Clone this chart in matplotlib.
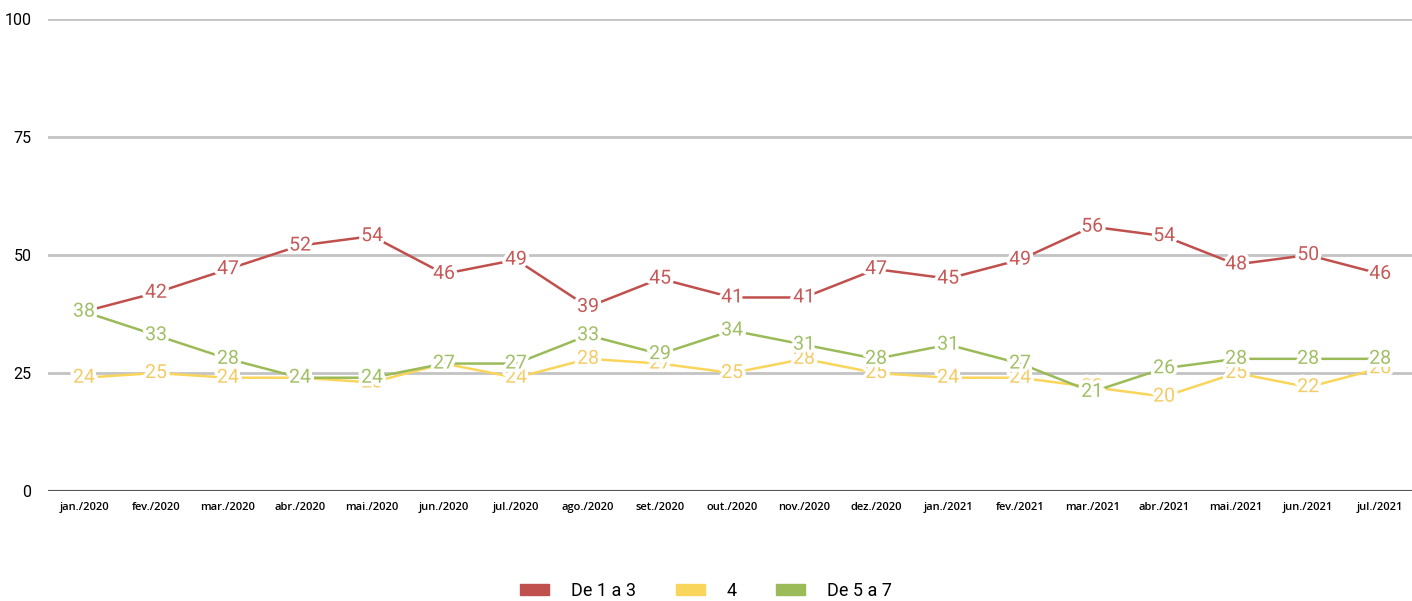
import matplotlib
matplotlib.use("Agg")
import matplotlib.pyplot as plt
import matplotlib.patheffects as pe
from matplotlib.patches import Patch

months = ["jan./2020", "fev./2020", "mar./2020", "abr./2020", "mai./2020", "jun./2020",
          "jul./2020", "ago./2020", "set./2020", "out./2020", "nov./2020", "dez./2020",
          "jan./2021", "fev./2021", "mar./2021", "abr./2021", "mai./2021", "jun./2021",
          "jul./2021"]
de_1_a_3 = [38, 42, 47, 52, 54, 46, 49, 39, 45, 41, 41, 47, 45, 49, 56, 54, 48, 50, 46]
quatro = [24, 25, 24, 24, 23, 27, 24, 28, 27, 25, 28, 25, 24, 24, 22, 20, 25, 22, 26]
de_5_a_7 = [38, 33, 28, 24, 24, 27, 27, 33, 29, 34, 31, 28, 31, 27, 21, 26, 28, 28, 28]
y_ticks = [0, 25, 50, 75, 100]

series = [("De 1 a 3", de_1_a_3, "#c0504d", "#c55a58"),
          ("4", quatro, "#fad55c", "#f3cc66"),
          ("De 5 a 7", de_5_a_7, "#9bbb59", "#a1bf66")]

fig = plt.figure(figsize=(14.12, 6.01), dpi=100)
ax = fig.add_axes([48 / 1412, 110 / 601, 1 - 48 / 1412 + 0.003, 472 / 601])

x = list(range(len(months)))
for name, vals, col, lblcol in series:
    ax.plot(x, vals, color=col, lw=1.8, zorder=3)

for name, vals, col, lblcol in series:
    for i, v in enumerate(vals):
        ax.text(i, v, str(v), ha="center", va="center", fontsize=14,
                family="Roboto", color=lblcol, zorder=5,
                path_effects=[pe.withStroke(linewidth=5, foreground="white")])

ax.set_xlim(-0.5, 18.5)
ax.set_ylim(0, 100)
ax.set_yticks(y_ticks)
for t in y_ticks[1:]:
    ax.axhline(t, color="#c3c3c3", lw=2, zorder=1)
ax.axhline(0, color="#555555", lw=1.5, zorder=2)

ax.set_xticks(x)
ax.set_xticklabels(months, fontsize=8, family="Open Sans", fontweight="semibold")
ax.tick_params(axis="x", length=0, pad=8)
ax.tick_params(axis="y", length=0, pad=12, labelsize=11.5)
for lab in ax.get_yticklabels():
    lab.set_family("Roboto")
for s in ax.spines.values():
    s.set_visible(False)

handles = [Patch(color=col, label=name) for name, vals, col, lblcol in series]
fig.legend(handles=handles, loc="lower center", bbox_to_anchor=(0.5, -0.025), ncol=3,
           frameon=False, handlelength=1.6, handleheight=0.55, handletextpad=1.2,
           columnspacing=2.2, prop={"family": "Roboto", "size": 13})

fig.savefig("out.png", dpi=100)
